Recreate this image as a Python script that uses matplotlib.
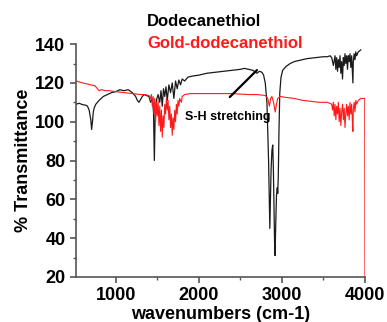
import matplotlib.pyplot as plt
from matplotlib.ticker import MultipleLocator

plt.rcParams['font.family'] = ['Liberation Sans', 'DejaVu Sans']
plt.rcParams['font.weight'] = 'bold'

# Dodecanethiol (black) spectrum
thiol_x = [520, 560, 600, 640, 660, 680, 700, 710, 720, 730, 740, 760, 800, 850, 900, 950,
           1000, 1050, 1100, 1150, 1200, 1240, 1260, 1280, 1300, 1320, 1340, 1370, 1400, 1420,
           1440, 1455, 1465, 1475, 1490, 1510, 1530, 1545, 1560, 1575, 1590, 1605, 1620, 1640,
           1660, 1680, 1700, 1720, 1740, 1760, 1780, 1800, 1830, 1870, 1920, 2000, 2100, 2200,
           2300, 2400, 2500, 2550, 2600, 2650, 2700, 2730, 2760, 2780, 2800, 2820, 2840, 2850,
           2855, 2862, 2870, 2880, 2890, 2898, 2905, 2912, 2918, 2925, 2935, 2945, 2950, 2957,
           2965, 2975, 2990, 3010, 3050, 3100, 3150, 3200, 3300, 3400, 3500, 3550, 3580, 3600,
           3620, 3640, 3650, 3660, 3670, 3680, 3690, 3700, 3710, 3720, 3730, 3740, 3750, 3760,
           3770, 3780, 3790, 3800, 3810, 3820, 3830, 3840, 3850, 3855, 3860, 3870, 3880, 3890,
           3900, 3920, 3950]
thiol_y = [109, 109.5, 108.8, 108.5, 108, 106, 101, 96, 100, 105, 107, 109, 111, 113, 114, 115,
           115.5, 116.5, 116, 116.5, 115, 113, 111, 110, 111.5, 113, 114, 113.5, 113, 110,
           112, 105, 80, 104, 111, 114, 110, 116, 108, 117, 113, 118, 111, 119,
           115, 120, 112, 121, 117, 121.5, 119, 122, 121, 123, 123.5, 124, 125, 125.5,
           126, 126.5, 127, 127.5, 127, 126.5, 125, 126, 125.5, 124, 120, 110, 80, 55,
           45, 60, 75, 85, 88, 75, 55, 38, 31, 45, 62, 66, 63, 72,
           95, 115, 123, 126.5, 128.5, 130, 131, 131.5, 132.5, 133, 133.5, 133.5, 134, 133,
           129, 134, 127, 133, 126, 132, 128, 134, 125, 131, 122, 133, 129, 135,
           130, 134, 127, 134, 131, 135, 128, 134, 124, 120, 131, 135, 132, 136,
           134, 136, 137]

# Gold-dodecanethiol (red) spectrum
gold_x = [520, 560, 600, 650, 700, 750, 780, 800, 830, 870, 920, 1000, 1100, 1200, 1300, 1350,
          1400, 1420, 1430, 1440, 1450, 1460, 1470, 1480, 1490, 1500, 1510, 1520, 1530, 1540,
          1550, 1560, 1570, 1580, 1590, 1600, 1610, 1620, 1630, 1640, 1650, 1660, 1670, 1680,
          1690, 1700, 1710, 1720, 1730, 1740, 1750, 1760, 1770, 1790, 1800, 1830, 1900, 2000,
          2200, 2400, 2600, 2700, 2800, 2830, 2850, 2865, 2880, 2900, 2920, 2935, 2950, 2980,
          3050, 3150, 3250, 3350, 3450, 3550, 3600, 3610, 3620, 3630, 3640, 3650, 3660, 3670,
          3680, 3690, 3700, 3710, 3720, 3730, 3740, 3750, 3760, 3770, 3780, 3790, 3800, 3810,
          3820, 3830, 3840, 3850, 3855, 3860, 3870, 3880, 3890, 3900, 3920, 3950, 3985, 3998,
          4000]
gold_y = [121, 120.5, 120, 119.5, 119, 118.5, 117, 116, 116.5, 116, 116, 115.5, 115, 114.5, 114, 114,
          113.5, 112, 114, 108, 113, 104, 112, 100, 110, 103, 111, 98, 108, 95,
          106, 92, 103, 97, 109, 104, 112, 106, 111, 101, 108, 97, 104, 93,
          102, 96, 106, 100, 109, 104, 111, 108, 112, 110, 113, 114, 114.5, 114.5,
          114.5, 114.5, 114, 114, 113.5, 112, 108, 112, 113, 110, 105, 109, 112, 113,
          112.5, 112, 111, 110.5, 110, 110, 109, 106, 110, 103, 109, 101, 108, 104,
          110, 100, 107, 98, 105, 109, 101, 107, 97, 104, 109, 103, 108, 101,
          110, 104, 109, 99, 95, 106, 110, 105, 111, 109, 111, 112, 112, 112,
          20]

fig = plt.figure(figsize=(3.87, 3.22), dpi=100)
ax = fig.add_axes([0.196, 0.140, 0.747, 0.723])

ax.plot(thiol_x, thiol_y, color='#1a1a1a', lw=0.9)
ax.plot(gold_x, gold_y, color='#ff1a1a', lw=0.8)

ax.set_xlim(520, 4000)
ax.set_ylim(20, 140)
ax.xaxis.set_major_locator(MultipleLocator(1000))
ax.xaxis.set_minor_locator(MultipleLocator(500))
ax.yaxis.set_major_locator(MultipleLocator(20))
ax.yaxis.set_minor_locator(MultipleLocator(10))
ax.spines['top'].set_visible(False)
ax.spines['right'].set_visible(False)
for s in ['left', 'bottom']:
    ax.spines[s].set_color('#555555')
    ax.spines[s].set_linewidth(1.2)
ax.tick_params(which='major', length=4, width=1.2, color='#555555', labelsize=13)
ax.tick_params(which='minor', length=2.5, width=1, color='#555555')

ax.set_xlabel('wavenumbers (cm-1)', fontsize=13, fontweight='bold', labelpad=1)
ax.set_ylabel('% Transmittance', fontsize=13, fontweight='bold', labelpad=2)

fig.text(0.38, 0.932, 'Dodecanethiol', fontsize=12, fontweight='bold', color='black', va='center')
fig.text(0.38, 0.866, 'Gold-dodecanethiol', fontsize=12, fontweight='bold', color='#ff1a1a', va='center')

ax.text(1830, 102.4, 'S-H stretching', fontsize=9, fontweight='bold', va='center', ha='left')
ax.annotate('', xy=(2700, 126.6), xytext=(2373, 112.7),
            arrowprops=dict(arrowstyle='-', lw=1.6, color='black', shrinkA=0, shrinkB=0))

fig.savefig('out.png', dpi=100)
